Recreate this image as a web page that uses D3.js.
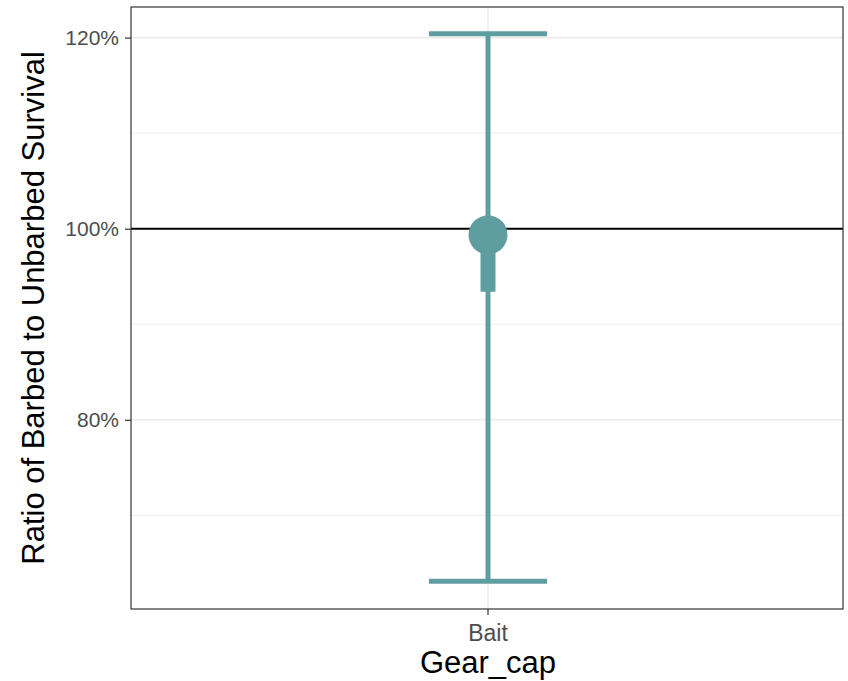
<!DOCTYPE html>
<html>
<head>
<meta charset="utf-8">
<script src="https://cdn.jsdelivr.net/npm/d3@7"></script>
<style>
  body { margin: 0; background: #fff; }
  svg text { font-family: "Liberation Sans", Arial, sans-serif; }
</style>
</head>
<body>
<svg id="chart"></svg>
<script>
// Data
var categories = ["Bait"];
var estimate = [99.35];      // point, %
var lowerCI = [63.1];        // whisker bottom, %
var upperCI = [120.4];       // whisker top, %
var innerLow = [93.4];       // thick segment bottom, %
var majorTicks = [80, 100, 120];
var minorTicks = [70, 90, 110];
var refLine = 100;

var color = "#5F9EA0";

// Setting size and margin
var W = 848, H = 681;
var margin = {top: 7, right: 5, bottom: 72, left: 131};
var width = W - margin.left - margin.right;
var height = H - margin.top - margin.bottom;

var svg = d3.select("#chart").attr("width", W).attr("height", H);
var chart = svg.append("g")
  .attr("transform", "translate(" + margin.left + "," + margin.top + ")");

// Scales
var y = d3.scaleLinear().domain([60.2, 123.2]).range([height, 0]);
var x = d3.scaleBand().domain(categories).range([0, width]).paddingInner(0.6).paddingOuter(0.3);
var cx = function(c) { return x(c) + x.bandwidth() / 2 + 1; };

// Grid lines
chart.selectAll(".minor").data(minorTicks).enter().append("line")
  .attr("x1", 0).attr("x2", width)
  .attr("y1", y).attr("y2", y)
  .attr("stroke", "#EBEBEB").attr("stroke-width", 0.8);
chart.selectAll(".major").data(majorTicks).enter().append("line")
  .attr("x1", 0).attr("x2", width)
  .attr("y1", y).attr("y2", y)
  .attr("stroke", "#EBEBEB").attr("stroke-width", 1.6);
chart.selectAll(".xgrid").data(categories).enter().append("line")
  .attr("x1", cx).attr("x2", cx)
  .attr("y1", 0).attr("y2", height)
  .attr("stroke", "#EBEBEB").attr("stroke-width", 1.6);

// Reference line
chart.append("line")
  .attr("x1", 0).attr("x2", width)
  .attr("y1", y(refLine)).attr("y2", y(refLine))
  .attr("stroke", "#000").attr("stroke-width", 2);

// Error bars
var capHalf = 59;
var g = chart.selectAll(".est").data(categories).enter().append("g");
g.append("line")
  .attr("x1", cx).attr("x2", cx)
  .attr("y1", function(d, i) { return y(lowerCI[i]); })
  .attr("y2", function(d, i) { return y(upperCI[i]); })
  .attr("stroke", color).attr("stroke-width", 5);
g.append("line")
  .attr("x1", function(d) { return cx(d) - capHalf; })
  .attr("x2", function(d) { return cx(d) + capHalf; })
  .attr("y1", function(d, i) { return y(upperCI[i]); })
  .attr("y2", function(d, i) { return y(upperCI[i]); })
  .attr("stroke", color).attr("stroke-width", 5);
g.append("line")
  .attr("x1", function(d) { return cx(d) - capHalf; })
  .attr("x2", function(d) { return cx(d) + capHalf; })
  .attr("y1", function(d, i) { return y(lowerCI[i]); })
  .attr("y2", function(d, i) { return y(lowerCI[i]); })
  .attr("stroke", color).attr("stroke-width", 5);
g.append("line")
  .attr("x1", cx).attr("x2", cx)
  .attr("y1", function(d, i) { return y(innerLow[i]); })
  .attr("y2", function(d, i) { return y(estimate[i]); })
  .attr("stroke", color).attr("stroke-width", 15);
g.append("circle")
  .attr("cx", cx)
  .attr("cy", function(d, i) { return y(estimate[i]); })
  .attr("r", 19.5)
  .attr("fill", color);

// Axes
var yaxis = d3.axisLeft(y).tickValues(majorTicks)
  .tickFormat(function(d) { return d + "%"; }).tickSize(6).tickPadding(6);
var xaxis = d3.axisBottom(x).tickSize(6).tickPadding(10)
  .offset(0);

var ya = chart.append("g").call(yaxis);
var xa = chart.append("g").attr("transform", "translate(1," + height + ")").call(xaxis);
[ya, xa].forEach(function(a) {
  a.select(".domain").remove();
  a.selectAll(".tick line").attr("stroke", "#333").attr("stroke-width", 1.2);
  a.selectAll(".tick text").attr("fill", "#4D4D4D").style("font-size", "21px");
});
xa.selectAll(".tick text").style("font-size", "23px");

// Panel border
chart.append("rect")
  .attr("width", width).attr("height", height)
  .attr("fill", "none").attr("stroke", "#333").attr("stroke-width", 1.2);

// Axis titles
svg.append("text")
  .attr("x", margin.left + cx("Bait")).attr("y", 673)
  .attr("text-anchor", "middle").style("font-size", "31px").attr("fill", "#000")
  .text("Gear_cap");
svg.append("text")
  .attr("transform", "translate(44," + (margin.top + height / 2) + ") rotate(-90)")
  .attr("text-anchor", "middle").style("font-size", "31px").attr("fill", "#000")
  .text("Ratio of Barbed to Unbarbed Survival");
</script>
</body>
</html>
